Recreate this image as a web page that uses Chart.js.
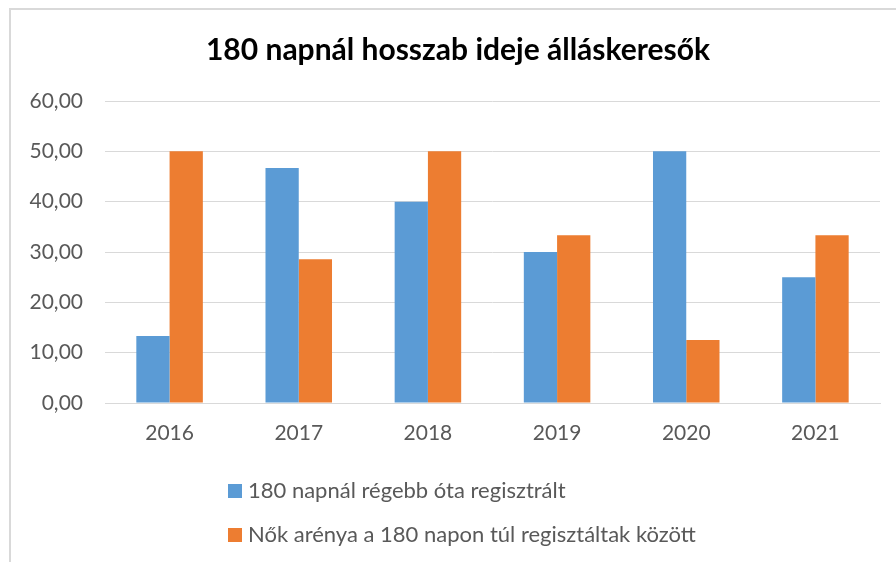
<!DOCTYPE html>
<html>
<head>
<meta charset="utf-8">
<script src="https://cdn.jsdelivr.net/npm/chart.js@4/dist/chart.umd.min.js"></script>
<style>
  html, body { margin: 0; padding: 0; background: #fff; width: 896px; height: 562px; overflow: hidden; }
  #frame { position: absolute; left: 9px; top: 8px; width: 920px; height: 620px; border: 2px solid #d9d9d9; box-sizing: border-box; }
  #wrap { position: absolute; left: 10px; top: 9px; width: 896px; height: 553px; }
  #legende { position: absolute; left: 228px; top: 477px; font-family: Lato, "Open Sans", sans-serif; font-size: 22px; color: #595959; }
  #legende div { height: 44px; line-height: 26px; white-space: nowrap; }
  #legende span.box { display: inline-block; width: 14px; height: 14px; margin-right: 6px; vertical-align: 0px; }
</style>
</head>
<body>
<div id="frame"></div>
<div id="wrap"><canvas id="myChart"></canvas></div>
<div id="legende"></div>
<script>
let annees = ["2016", "2017", "2018", "2019", "2020", "2021"]
let regisztralt = [13.33, 46.67, 40.00, 30.00, 50.00, 25.00]
let nokAranya = [50.00, 28.57, 50.00, 33.33, 12.50, 33.33]
let nomsSeries = ["180 napnál régebb óta regisztrált", "Nők arénya a 180 napon túl regisztáltak között"]
let couleurs = ["#5b9bd5", "#ed7d31"]

const police = "Lato, 'Open Sans', sans-serif"

const data = {
    labels: annees,
    datasets: [{
        label: nomsSeries[0],
        data: regisztralt,
        backgroundColor: couleurs[0]
    }, {
        label: nomsSeries[1],
        data: nokAranya,
        backgroundColor: couleurs[1]
    }]
};

// le titre est centré sur tout le cadre, pas sur la zone sans la marge droite
const decalTitre = {
    id: 'decalTitre',
    afterLayout(chart) {
        const t = chart.titleBlock;
        if (t) { t.left += 13; t.right += 13; }
    }
};

const config = {
    type: 'bar',
    data: data,
    plugins: [decalTitre],
    options: {
        responsive: false,
        animation: false,
        devicePixelRatio: 1,
        datasets: { bar: { categoryPercentage: 0.515, barPercentage: 1 } },
        layout: { padding: { left: 0, right: 26, top: 0, bottom: 109 } },
        plugins: {
            legend: { display: false },
            tooltip: { enabled: false },
            title: {
                display: true,
                text: '180 napnál hosszab ideje álláskeresők',
                color: '#000',
                font: { family: police, size: 30, weight: 'bold' },
                padding: { top: 23, bottom: 33 }
            }
        },
        scales: {
            x: {
                grid: { display: false, drawTicks: false },
                border: { display: true, color: '#d9d9d9', width: 1 },
                ticks: { color: '#595959', font: { family: police, size: 21 }, padding: 18 },
                afterFit: (s) => { s.height = 50 }
            },
            y: {
                min: 0,
                max: 60,
                ticks: {
                    stepSize: 10,
                    color: '#595959',
                    font: { family: police, size: 21 },
                    padding: 22,
                    callback: (v) => v.toFixed(2).replace('.', ',')
                },
                grid: { color: '#d9d9d9', lineWidth: 1, drawTicks: false },
                border: { display: false },
                afterFit: (s) => { s.width = 95 }
            }
        }
    }
};

const canvas = document.getElementById('myChart');
canvas.width = 896;
canvas.height = 553;
new Chart(canvas, config);

// legende verticale comme dans l'original
const leg = document.getElementById('legende');
nomsSeries.forEach((nom, i) => {
    const d = document.createElement('div');
    d.innerHTML = '<span class="box" style="background:' + couleurs[i] + '"></span>' + nom;
    leg.appendChild(d);
});
</script>
</body>
</html>
